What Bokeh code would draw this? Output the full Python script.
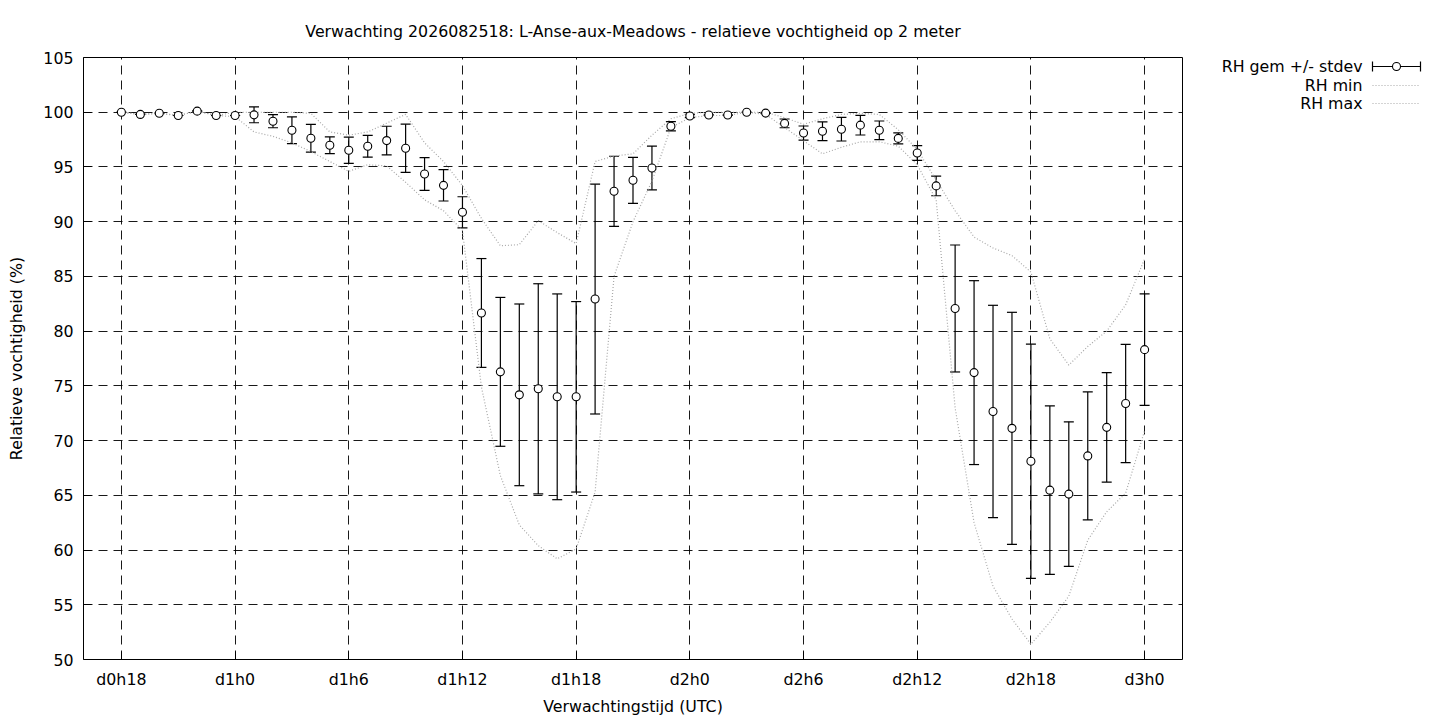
from bokeh.plotting import figure
from bokeh.models import ColumnDataSource, Whisker, TeeHead, FixedTicker, Range1d
from bokeh.layouts import row
from bokeh.embed import file_html
from bokeh.resources import INLINE
from bokeh.core.properties import value

# ---------------- data ----------------
hours = list(range(18, 73))

rh_mean = [100.0, 99.8, 99.9, 99.7, 100.1, 99.7, 99.7,
           99.76, 99.18, 98.35, 97.62, 96.98, 96.52, 96.89, 97.41, 96.71, 94.36, 93.32, 90.86,
           81.66, 76.28, 74.18, 74.73, 74.0, 74.0, 82.93, 92.78, 93.78, 94.91, 98.72,
           99.65, 99.74, 99.74, 100.0, 99.92, 98.98, 98.1, 98.26, 98.45, 98.82, 98.35, 97.61,
           96.27, 93.27, 82.07, 76.21, 72.66, 71.12, 68.11, 65.47, 65.11, 68.6, 71.21, 73.39, 78.31]

rh_sd = [0.0, 0.0, 0.0, 0.0, 0.0, 0.0, 0.0,
         0.72, 0.6, 1.22, 1.27, 0.76, 1.2, 1.0, 1.31, 2.2, 1.5, 1.43, 1.42,
         4.97, 6.8, 8.3, 9.6, 9.4, 8.7, 10.5, 3.2, 2.1, 2.0, 0.43,
         0.15, 0.0, 0.0, 0.0, 0.0, 0.4, 0.64, 0.85, 1.08, 0.9, 0.85, 0.5,
         0.67, 0.9, 5.8, 8.4, 9.7, 10.6, 10.7, 7.7, 6.6, 5.85, 5.0, 5.4, 5.1]

rh_min = [100.0, 99.8, 99.9, 99.7, 100.1, 99.7, 99.6,
          98.2, 97.8, 97.2, 96.4, 95.5, 94.6, 95.2, 95.1, 93.6, 92.0, 91.0, 89.2,
          74.9, 66.8, 62.3, 60.4, 59.2, 60.1, 65.3, 85.0, 90.0, 93.7, 98.6,
          99.5, 99.7, 99.7, 100.0, 99.8, 98.6, 97.4, 96.2, 96.8, 97.3, 97.3, 96.9,
          95.2, 92.0, 73.0, 62.5, 56.7, 53.7, 51.4, 53.4, 55.8, 60.9, 63.5, 65.2, 70.9]

rh_max = [100.0, 99.8, 99.9, 99.7, 100.1, 99.7, 100.0,
          100.0, 100.0, 100.0, 99.9, 98.2, 97.9, 98.2, 99.0, 99.8, 97.2, 95.5, 93.3,
          90.3, 87.8, 87.9, 90.1, 89.0, 88.0, 95.5, 96.0, 96.2, 97.9, 99.4,
          99.9, 100.0, 100.0, 100.0, 100.0, 99.5, 98.9, 99.4, 99.8, 99.9, 99.8, 98.4,
          96.6, 93.8, 91.0, 88.6, 87.6, 86.9, 85.4, 79.3, 76.9, 78.6, 80.0, 82.4, 86.6]

x_tick_hours = [18, 24, 30, 36, 42, 48, 54, 60, 66, 72]
x_tick_labels = ["d0h18", "d1h0", "d1h6", "d1h12", "d1h18", "d2h0", "d2h6", "d2h12", "d2h18", "d3h0"]
y_ticks = [50, 55, 60, 65, 70, 75, 80, 85, 90, 95, 100, 105]
legend_labels = ["RH gem +/- stdev", "RH min", "RH max"]

title_text = "Verwachting 2026082518: L-Anse-aux-Meadows - relatieve vochtigheid op 2 meter"
x_label = "Verwachtingstijd (UTC)"
y_label = "Relatieve vochtigheid (%)"

# ---------------- style ----------------
FONT = "DejaVu Sans"
FS = "15.8px"
DOT_COLOR = "#a8a8a8"
FRAME_W, FRAME_H = 1099, 602
BORDER_TOP, BORDER_BOTTOM = 57, 53

src = ColumnDataSource(dict(
    x=hours, mean=rh_mean,
    upper=[m + s for m, s in zip(rh_mean, rh_sd)],
    lower=[m - s for m, s in zip(rh_mean, rh_sd)],
    mn=rh_min, mx=rh_max,
))

p = figure(frame_width=FRAME_W, frame_height=FRAME_H,
           x_range=Range1d(16, 74), y_range=Range1d(50, 105),
           output_backend="svg", toolbar_location=None,
           min_border_left=83, min_border_right=10,
           min_border_top=BORDER_TOP, min_border_bottom=BORDER_BOTTOM,
           background_fill_color="white", border_fill_color="white",
           title=title_text)

p.title.text_font = FONT
p.title.text_font_size = FS
p.title.text_font_style = "normal"
p.title.align = "center"
p.title.text_color = "black"
p.title.standoff = 34

p.outline_line_color = "black"
p.outline_line_width = 1
p.outline_line_alpha = 1

p.xaxis.ticker = FixedTicker(ticks=x_tick_hours)
p.xaxis.major_label_overrides = {h: lab for h, lab in zip(x_tick_hours, x_tick_labels)}
p.yaxis.ticker = FixedTicker(ticks=y_ticks)
p.xgrid.ticker = FixedTicker(ticks=x_tick_hours)
p.ygrid.ticker = FixedTicker(ticks=y_ticks)

for ax in (p.xaxis[0], p.yaxis[0]):
    ax.axis_line_color = None
    ax.major_tick_in = 8
    ax.major_tick_out = 0
    ax.minor_tick_in = 0
    ax.minor_tick_out = 0
    ax.major_tick_line_color = "black"
    ax.major_label_text_font = FONT
    ax.major_label_text_font_size = FS
    ax.major_label_text_color = "black"
    ax.axis_label_text_font = FONT
    ax.axis_label_text_font_size = FS
    ax.axis_label_text_font_style = "normal"
    ax.axis_label_text_color = "black"

p.xaxis.axis_label = x_label
p.yaxis.axis_label = y_label
p.xaxis.major_label_standoff = 10
p.yaxis.major_label_standoff = 10
p.xaxis.axis_label_standoff = 5
p.yaxis.axis_label_standoff = 14

for g in (p.xgrid[0], p.ygrid[0]):
    g.grid_line_color = "black"
    g.grid_line_width = 1
    g.grid_line_dash = "9 6"
    g.grid_line_alpha = 0.9

# min / max lines
p.line("x", "mn", source=src, line_color=DOT_COLOR, line_dash="1 2", line_width=1.2)
p.line("x", "mx", source=src, line_color=DOT_COLOR, line_dash="1 2", line_width=1.2)

# error bars
whisk = Whisker(base="x", upper="upper", lower="lower", source=src, dimension="height",
                line_color="black", line_width=1.2,
                upper_head=TeeHead(size=10, line_color="black", line_width=1.2),
                lower_head=TeeHead(size=10, line_color="black", line_width=1.2))
p.add_layout(whisk)

p.scatter("x", "mean", source=src, marker="circle", size=8,
          fill_color="white", line_color="black", line_width=1.1)

# ---------------- legend panel (gnuplot style: text left, sample right) ----------------
# its frame is aligned with the main frame; coordinates are pixels from the frame top
lf = figure(width=236, frame_height=FRAME_H, x_range=Range1d(0, 236), y_range=Range1d(FRAME_H, 0),
            output_backend="svg", toolbar_location=None,
            x_axis_type=None, y_axis_type=None,
            min_border_left=0, min_border_right=0,
            min_border_top=BORDER_TOP, min_border_bottom=BORDER_BOTTOM,
            background_fill_color="white", border_fill_color="white")
lf.outline_line_color = None
lf.grid.visible = False

leg_y = [9, 28, 46]
lf.text(x=[170, 170, 170], y=leg_y, text=legend_labels, text_align="right",
        text_baseline="middle", text_font=value(FONT), text_font_size=value(FS),
        text_color="black")
# errorbar sample
lf.segment(x0=[180], y0=[leg_y[0]], x1=[228], y1=[leg_y[0]], line_color="black", line_width=1.2)
lf.segment(x0=[180, 228], y0=[leg_y[0] - 5, leg_y[0] - 5], x1=[180, 228], y1=[leg_y[0] + 5, leg_y[0] + 5],
           line_color="black", line_width=1.2)
lf.scatter(x=[204], y=[leg_y[0]], marker="circle", size=8, fill_color="white",
           line_color="black", line_width=1.1)
# dotted samples
lf.segment(x0=[180, 180], y0=leg_y[1:], x1=[228, 228], y1=leg_y[1:],
           line_color=DOT_COLOR, line_dash="1 2", line_width=1.2)

layout = row(p, lf)
open("out.html", "w").write(file_html(layout, INLINE))
